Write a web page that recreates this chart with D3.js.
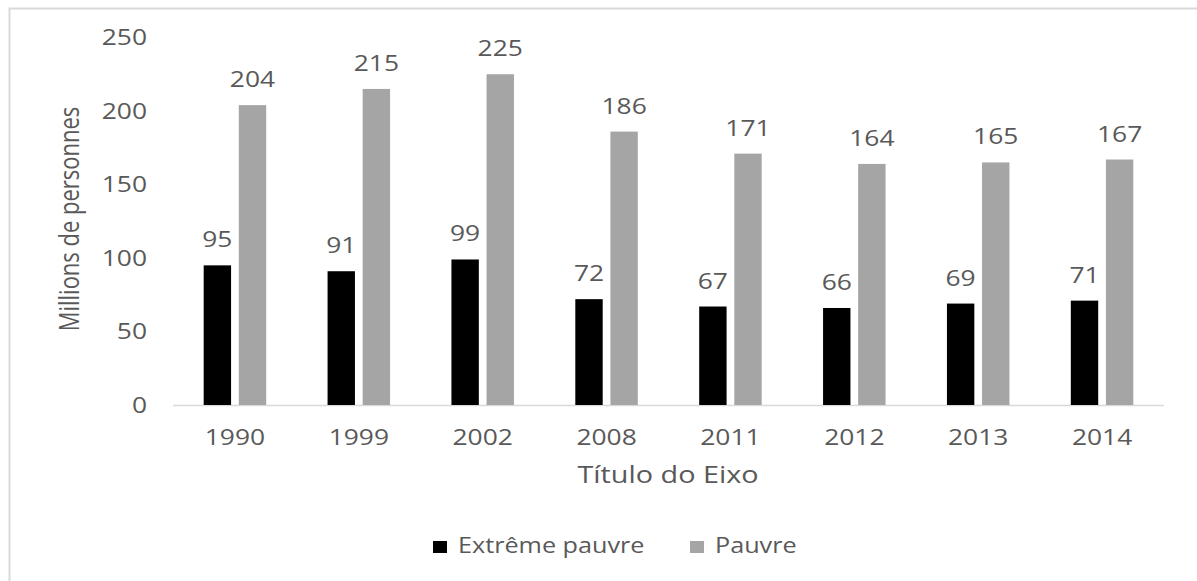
<!DOCTYPE html>
<html><head><meta charset="utf-8">
<script src="https://cdn.jsdelivr.net/npm/d3@7"></script>
<style>body{margin:0;background:#fff;} svg{display:block;} text{font-family:"Open Sans",sans-serif;fill:#595959;}</style>
</head><body>
<svg id="c" width="1197" height="581"></svg>
<script>
const categories = ["1990","1999","2002","2008","2011","2012","2013","2014"];
const extremePauvre = [95,91,99,72,67,66,69,71];
const pauvre = [204,215,225,186,171,164,165,167];
const seriesNames = ["Extrême pauvre","Pauvre"];
const seriesColors = ["#000000","#a5a5a5"];
const yTicks = [0,50,100,150,200,250];
const yTitle = "Millions de personnes";
const xTitle = "Título do Eixo";

const svg = d3.select("#c");
const SX = 1.2; // horizontal stretch of the reference's text
// chart border
svg.append("rect").attr("x",9.5).attr("y",8.5).attr("width",1300).attr("height",700)
  .attr("fill","none").attr("stroke","#d9d9d9").attr("stroke-width",2);

const pLeft=173, pRight=1164, pTop=37.5, pBottom=405;
const x = d3.scaleBand().domain(categories).range([pLeft,pRight]);
const y = d3.scaleLinear().domain([0,250]).range([pBottom,pTop]);
const sub = d3.scaleBand().domain([0,1]).range([0, 62.5]).paddingInner(0.22);
const fs = 22;
const tr = (px,py)=>`translate(${px},${py}) scale(${SX},1)`;

// y tick labels
svg.append("g").selectAll("text").data(yTicks).join("text")
  .attr("transform",d=>tr(147,y(d))).attr("dy","0.35em").attr("text-anchor","end")
  .style("font-size",fs+"px").text(d=>d);

// x axis line
svg.append("line").attr("x1",pLeft).attr("x2",pRight).attr("y1",pBottom+0.5).attr("y2",pBottom+0.5)
  .attr("stroke","#d9d9d9").attr("stroke-width",1.5);

const series=[extremePauvre,pauvre];
series.forEach((vals,si)=>{
  const g=svg.append("g");
  const bx=(i)=>x(categories[i])+x.bandwidth()/2-31.25+sub(si);
  g.selectAll("rect").data(vals).join("rect")
    .attr("x",(d,i)=>bx(i))
    .attr("y",d=>y(d)).attr("width",sub.bandwidth()).attr("height",d=>pBottom-y(d))
    .attr("fill",seriesColors[si]);
  g.selectAll("text").data(vals).join("text")
    .attr("transform",(d,i)=>tr(bx(i)+sub.bandwidth()/2, y(d)-18))
    .attr("text-anchor","middle").style("font-size",fs+"px").text(d=>d);
});

// x tick labels
svg.append("g").selectAll("text").data(categories).join("text")
  .attr("transform",d=>tr(x(d)+x.bandwidth()/2,445)).attr("text-anchor","middle")
  .style("font-size",fs+"px").text(d=>d);

// axis titles
svg.append("text").attr("transform",tr(668,483)).attr("text-anchor","middle").style("font-size","24px").text(xTitle);
svg.append("text").attr("transform",`translate(79,219) rotate(-90) scale(1,${SX})`).attr("text-anchor","middle").style("font-size","22px").text(yTitle);

// legend
const leg = svg.append("g");
const legX=[433,690];
seriesNames.forEach((n,i)=>{
  leg.append("rect").attr("x",legX[i]).attr("y",541).attr("width",14).attr("height",12).attr("fill",seriesColors[i]);
  leg.append("text").attr("transform",tr(legX[i]+25,553)).style("font-size","21px").text(n);
});
</script>
</body></html>
